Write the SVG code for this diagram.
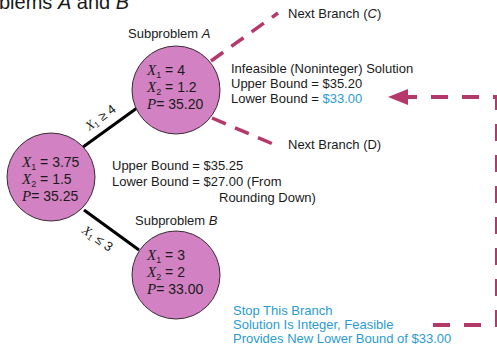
<svg xmlns="http://www.w3.org/2000/svg" width="497" height="350" viewBox="0 0 497 350">
<style>
.t{font-family:"Liberation Sans",Arial,sans-serif;font-size:13px;fill:#1a1a1a}
.b{fill:#2b9bd3}
.n{font-family:"Liberation Sans",Arial,sans-serif;font-size:14px;fill:#1a1a1a}
.v{font-family:"Liberation Serif","Times New Roman",serif;font-style:italic;font-size:15px}
.s{font-size:9px}
.c{fill:#d282c2;stroke:#3a2a35;stroke-width:1}
.e{stroke:#000;stroke-width:3;fill:none}
.d{stroke:#b5386a;stroke-width:3.5;fill:none;stroke-dasharray:15 10}
</style>
<defs>
<marker id="ah" markerWidth="5" markerHeight="4" refX="5" refY="2" orient="auto" markerUnits="strokeWidth">
<path d="M0,0 L5,2 L0,4 Z" fill="#b5386a"/>
</marker>
</defs>
<text class="t" x="-1" y="9" style="font-size:20px">blems <tspan font-style="italic">A</tspan> and <tspan font-style="italic">B</tspan></text>
<g id="connectors">
<line class="e" x1="83" y1="147" x2="137" y2="108"/>
<line class="e" x1="84" y1="210" x2="139" y2="250"/>
<text class="t" transform="translate(103,121) rotate(-36)" text-anchor="middle"><tspan class="v" style="font-size:13px">X</tspan><tspan style="font-size:8px" dy="2">1</tspan><tspan dy="-2"> ≥ 4</tspan></text>
<text class="t" transform="translate(95,242) rotate(36)" text-anchor="middle"><tspan class="v" style="font-size:13px">X</tspan><tspan style="font-size:8px" dy="2">1</tspan><tspan dy="-2"> ≤ 3</tspan></text>
<line class="d" x1="211" y1="61" x2="278" y2="13"/>
<line class="d" x1="212" y1="118" x2="273" y2="144"/>
<path class="d" style="stroke-width:4;stroke-dasharray:17 14" d="M433,325 H497 V97 H388" marker-end="url(#ah)"/>
</g>
<g id="root">
<circle class="c" cx="51" cy="177" r="44"/>
<text class="n" x="22" y="167"><tspan class="v">X</tspan><tspan class="s" dy="3">1</tspan><tspan dy="-3"> = 3.75</tspan></text>
<text class="n" x="22" y="184"><tspan class="v">X</tspan><tspan class="s" dy="3">2</tspan><tspan dy="-3"> = 1.5</tspan></text>
<text class="n" x="22" y="201"><tspan class="v">P</tspan>= 35.25</text>
</g>
<g id="rootlabel">
<text class="t" x="112" y="170">Upper Bound = $35.25</text>
<text class="t" x="112" y="186">Lower Bound = $27.00 (From</text>
<text class="t" x="219" y="202">Rounding Down)</text>
</g>
<g id="subA">
<text class="t" x="128" y="38">Subproblem <tspan font-style="italic">A</tspan></text>
<circle class="c" cx="176" cy="90" r="44"/>
<text class="n" x="147" y="75"><tspan class="v">X</tspan><tspan class="s" dy="3">1</tspan><tspan dy="-3"> = 4</tspan></text>
<text class="n" x="147" y="92"><tspan class="v">X</tspan><tspan class="s" dy="3">2</tspan><tspan dy="-3"> = 1.2</tspan></text>
<text class="n" x="147" y="109"><tspan class="v">P</tspan>= 35.20</text>
</g>
<g id="labelA">
<text class="t" x="231" y="73">Infeasible (Noninteger) Solution</text>
<text class="t" x="231" y="88">Upper Bound = $35.20</text>
<text class="t" x="231" y="103">Lower Bound = <tspan class="b">$33.00</tspan></text>
</g>
<g id="branchC"><text class="t" x="288" y="18">Next Branch (<tspan font-style="italic">C</tspan>)</text></g>
<g id="branchD"><text class="t" x="288" y="149">Next Branch (D)</text></g>
<g id="subB">
<text class="t" x="135" y="225">Subproblem <tspan font-style="italic">B</tspan></text>
<circle class="c" cx="176" cy="275" r="44"/>
<text class="n" x="147" y="260"><tspan class="v">X</tspan><tspan class="s" dy="3">1</tspan><tspan dy="-3"> = 3</tspan></text>
<text class="n" x="147" y="277"><tspan class="v">X</tspan><tspan class="s" dy="3">2</tspan><tspan dy="-3"> = 2</tspan></text>
<text class="n" x="147" y="294"><tspan class="v">P</tspan>= 33.00</text>
</g>
<g id="labelB">
<text class="t b" x="233" y="315">Stop This Branch</text>
<text class="t b" x="233" y="329">Solution Is Integer, Feasible</text>
<text class="t b" x="233" y="343">Provides New Lower Bound of $33.00</text>
</g>
</svg>
